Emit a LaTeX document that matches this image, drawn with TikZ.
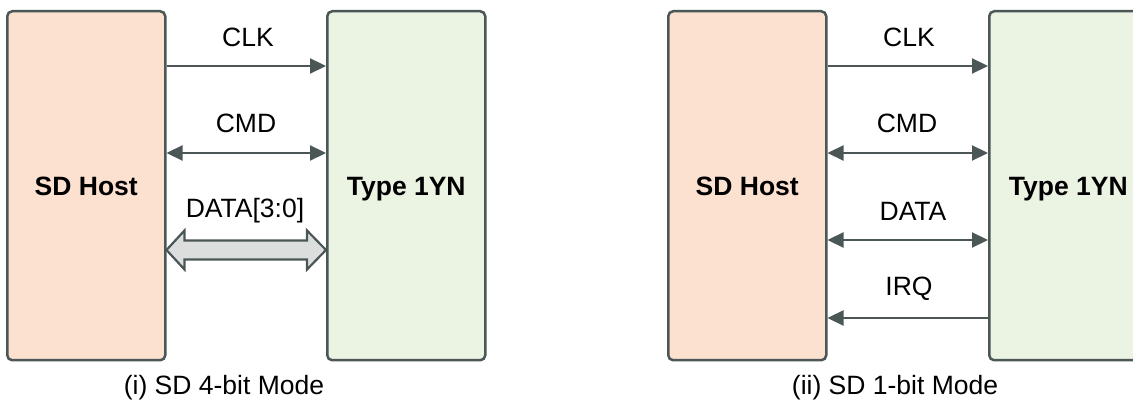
\documentclass[tikz,border=0pt]{standalone}
\usepackage{fontspec}
\setmainfont{Liberation Sans}
\usetikzlibrary{arrows.meta,calc}
\definecolor{hostfill}{HTML}{FCE0D0}
\definecolor{devfill}{HTML}{EBF3E3}
\definecolor{strokec}{HTML}{4B5757}
\definecolor{busfill}{HTML}{DCDDDD}
\tikzset{
  blockbox/.style={draw=strokec, line width=2.5pt, rounded corners=5pt, minimum width=158pt, minimum height=349pt, inner sep=0pt, text height=19pt, text depth=0pt, anchor=north west, font=\fontsize{26.5}{30}\selectfont\bfseries},
  hostbox/.style={blockbox, fill=hostfill},
  devbox/.style={blockbox, fill=devfill},
  sig/.style={draw=strokec, line width=2.2pt, -{Triangle[length=16pt,width=15pt]}},
  bisig/.style={draw=strokec, line width=2.2pt, {Triangle[length=16pt,width=15pt]}-{Triangle[length=16pt,width=15pt]}},
  lbl/.style={font=\fontsize{26.5}{30}\selectfont, inner sep=0pt},
  captext/.style={font=\fontsize{26.5}{30}\selectfont, inner sep=0pt},
  bus/.style={draw=strokec, line width=2.2pt, fill=busfill, line join=miter}
}
\begin{document}
\begin{tikzpicture}[x=1pt,y=-1pt]
\clip (0,0) rectangle (1133,403);
\fill[white] (0,0) rectangle (1133,403);
% left diagram
\node[hostbox] (host1) at (6,10) {SD Host};
\node[devbox] (dev1) at (326,10) {Type 1YN};
\draw[sig] (host1.east |- 0,66) -- (dev1.west |- 0,66);
\node[lbl] (clk1) at (248,37) {CLK};
\draw[bisig] (host1.east |- 0,153) -- (dev1.west |- 0,153);
\node[lbl] (cmd1) at (246,123) {CMD};
\node[lbl] (data1) at (245,211) {DATA[3:0]};
\coordinate (bl) at (host1.east |- 0,250);
\coordinate (br) at (dev1.west |- 0,250);
\draw[bus] (bl) -- ($(bl)+(18,-19.5)$) -- ($(bl)+(18,-9.5)$) -- ($(br)+(-19,-9.5)$) -- ($(br)+(-19,-19.5)$) -- (br)
  -- ($(br)+(-19,19.5)$) -- ($(br)+(-19,9.5)$) -- ($(bl)+(18,9.5)$) -- ($(bl)+(18,19.5)$) -- cycle;
\node[captext] (cap1) at (224,388) {(i) SD 4-bit Mode};
% right diagram
\node[hostbox] (host2) at (667,10) {SD Host};
\node[devbox] (dev2) at (988,10) {Type 1YN};
\draw[sig] (host2.east |- 0,66) -- (dev2.west |- 0,66);
\node[lbl] (clk2) at (909,37) {CLK};
\draw[bisig] (host2.east |- 0,153) -- (dev2.west |- 0,153);
\node[lbl] (cmd2) at (907,123) {CMD};
\draw[bisig] (host2.east |- 0,240) -- (dev2.west |- 0,240);
\node[lbl] (data2) at (913,211) {DATA};
\draw[sig] (dev2.west |- 0,318) -- (host2.east |- 0,318);
\node[lbl] (irq2) at (909,289) {IRQ};
\node[captext] (cap2) at (895,388) {(ii) SD 1-bit Mode};
\end{tikzpicture}
\end{document}
